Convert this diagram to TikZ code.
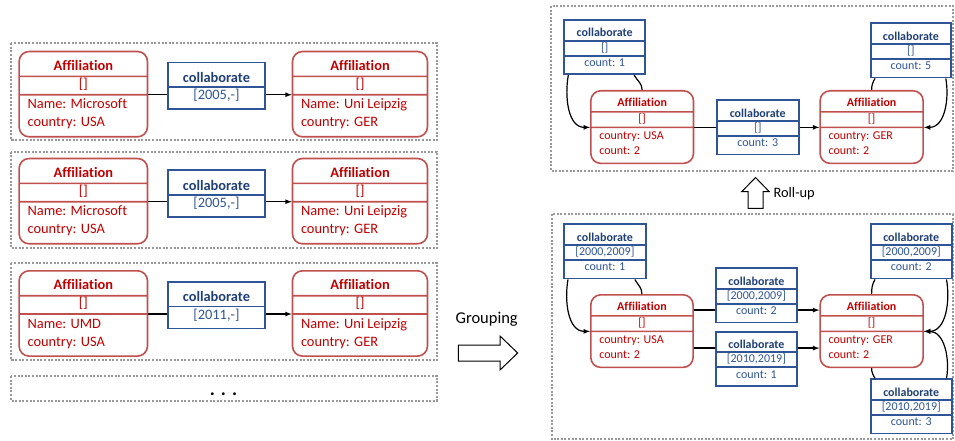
\documentclass[tikz,border=0pt]{standalone}
\usepackage{fontspec}
\setmainfont[Ligatures=NoCommon]{Carlito}
\usetikzlibrary{shapes.multipart}

\definecolor{affred}{HTML}{C0504D}
\definecolor{txtred}{HTML}{C00000}
\definecolor{colblue}{HTML}{2F5597}
\definecolor{titleblue}{HTML}{1F3F75}

% strut: height #1, depth #2
\newcommand{\strt}[2]{\rule[-#2]{0pt}{\dimexpr#1+#2\relax}}
\newcommand{\affiltitle}{\strt{1.25em}{0.37em}\textbf{Affiliation}}
\newcommand{\bracketpart}{\strt{0.78em}{0.38em}[]}
\newcommand{\attrs}[2]{\begin{tabular}{@{}l@{}}\strt{0.92em}{0pt}#1\\#2\strt{0pt}{0.64em}\end{tabular}}
\newcommand{\colltitle}{\strt{1.33em}{0.25em}\textcolor{titleblue}{\textbf{collaborate}}}
\newcommand{\collmid}[1]{\strt{0.79em}{0.31em}#1}
\newcommand{\colllast}[1]{\strt{0.82em}{0.58em}#1}

\tikzset{
  affil/.style={rectangle split, rectangle split parts=3,
                rectangle split part align={center,center,left},
                draw=affred, line width=1.6pt, rounded corners=10pt,
                text=txtred, inner ysep=0pt, inner xsep=0.85em,
                anchor=north west},
  collab/.style={rectangle split, rectangle split parts=#1,
                draw=colblue, line width=1.8pt, text=colblue,
                inner ysep=0pt, inner xsep=2pt, anchor=north west},
  collab/.default=3,
  group box/.style={draw=gray!80, line width=2pt,
                dash pattern=on 2pt off 1.6pt},
  big font/.style={font=\fontsize{14.4}{18}\selectfont},
  small font/.style={font=\fontsize{12}{15.7}\selectfont},
  hollow arrow/.style={draw=black, line width=1pt, fill=white},
  link/.style={line width=1.2pt, draw=black},
}

\begin{document}
\begin{tikzpicture}[x=1pt, y=-1pt, >=latex]
  \useasboundingbox (0,0) rectangle (955,441);

  % single collaborations
  \draw[group box] (11,43.3) rectangle (437,140);
  \draw[group box] (11,151.7) rectangle (437,248.3);
  \draw[group box] (11,263.3) rectangle (437,360);
  \draw[group box] (11,376) rectangle (437,400.7);
  \node[font=\fontsize{19}{20}\selectfont, anchor=base] (more) at (223.5,395)
    {\textbf{.\hspace{6pt}.\hspace{6pt}.}};

  \node[affil, big font, minimum width=128.4] (ms1) at (18.3,50.7)
    {\affiltitle\nodepart{two}\bracketpart
     \nodepart{three}\attrs{Name: Microsoft}{country: USA}};
  \node[collab=2, big font, minimum width=97] (c1) at (167,61.7)
    {\colltitle\nodepart{two}\colllast{[2005,-]}};
  \node[affil, big font, minimum width=135] (ul1) at (291.7,50.7)
    {\affiltitle\nodepart{two}\bracketpart
     \nodepart{three}\attrs{Name: Uni Leipzig}{country: GER}};
  \draw[link] (ms1.two split east) -- (ms1.two split east -| c1.west);
  \draw[link,->] (c1.east |- ul1.two split west) -- (ul1.two split west);

  \node[affil, big font, minimum width=128.4] (ms2) at (18.3,157.7)
    {\affiltitle\nodepart{two}\bracketpart
     \nodepart{three}\attrs{Name: Microsoft}{country: USA}};
  \node[collab=2, big font, minimum width=97] (c2) at (167,169.3)
    {\colltitle\nodepart{two}\colllast{[2005,-]}};
  \node[affil, big font, minimum width=135] (ul2) at (291.7,157.7)
    {\affiltitle\nodepart{two}\bracketpart
     \nodepart{three}\attrs{Name: Uni Leipzig}{country: GER}};
  \draw[link] (ms2.two split east) -- (ms2.two split east -| c2.west);
  \draw[link,->] (c2.east |- ul2.two split west) -- (ul2.two split west);

  \node[affil, big font, minimum width=128.4] (umd) at (18.3,270)
    {\affiltitle\nodepart{two}\bracketpart
     \nodepart{three}\attrs{Name: UMD}{country: USA}};
  \node[collab=2, big font, minimum width=97] (c3) at (167,281)
    {\colltitle\nodepart{two}\colllast{[2011,-]}};
  \node[affil, big font, minimum width=135] (ul3) at (291.7,270)
    {\affiltitle\nodepart{two}\bracketpart
     \nodepart{three}\attrs{Name: Uni Leipzig}{country: GER}};
  \draw[link] (umd.two split east) -- (umd.two split east -| c3.west);
  \draw[link,->] (c3.east |- ul3.two split west) -- (ul3.two split west);

  % grouping
  \node[font=\fontsize{16.5}{19}\selectfont] (grouping) at (486.7,319.3) {Grouping};
  \draw[hollow arrow] (458.3,345) -- (500,345) -- (500,336) -- (517.7,353)
    -- (500,370) -- (500,361) -- (458.3,361) -- cycle;

  % grouped graph
  \draw[group box] (551.7,214.3) rectangle (953,439.3);
  \node[collab, small font, minimum width=82] (usa00) at (563,223.3)
    {\colltitle\nodepart{two}\collmid{[2000,2009]}\nodepart{three}\colllast{count: 1}};
  \node[affil, small font, minimum width=102.3] (usa) at (590,294)
    {\affiltitle\nodepart{two}\bracketpart
     \nodepart{three}\attrs{country: USA}{count: 2}};
  \node[collab, small font, minimum width=81] (ug00) at (715,267.3)
    {\colltitle\nodepart{two}\collmid{[2000,2009]}\nodepart{three}\colllast{count: 2}};
  \node[collab, small font, minimum width=81] (ug10) at (715,330.7)
    {\colltitle\nodepart{two}\collmid{[2010,2019]}\nodepart{three}\colllast{count: 1}};
  \node[affil, small font, minimum width=103] (ger) at (819.3,294)
    {\affiltitle\nodepart{two}\bracketpart
     \nodepart{three}\attrs{country: GER}{count: 2}};
  \node[collab, small font, minimum width=80.7] (ger00) at (870,223.3)
    {\colltitle\nodepart{two}\collmid{[2000,2009]}\nodepart{three}\colllast{count: 2}};
  \node[collab, small font, minimum width=80.7] (ger10) at (870,378.3)
    {\colltitle\nodepart{two}\collmid{[2010,2019]}\nodepart{three}\colllast{count: 3}};

  \coordinate (up) at ([yshift=21pt]usa.east);
  \coordinate (down) at ([yshift=-17pt]usa.east);
  \draw[link] (up) -- (up -| ug00.west);
  \draw[link,->] (ug00.east |- up) -- (up -| ger.west);
  \draw[link] (down) -- (down -| ug10.west);
  \draw[link,->] (ug10.east |- down) -- (down -| ger.west);
  \draw[link] (usa.north) to[out=90, in=-60] ([xshift=-12pt]usa00.south east);
  \draw[link,->] ([xshift=5pt]usa00.south west) to[out=-100, in=180] (usa.two split west);
  \draw[link] (ger.north) to[out=90, in=-120] ([xshift=5pt]ger00.south west);
  \draw[link,->] ([xshift=-6pt]ger00.south east) to[out=-80, in=0] (ger.two split east);
  \draw[link] (ger.south) to[out=-90, in=120] ([xshift=5pt]ger10.north west);
  \draw[link,->] ([xshift=-6pt]ger10.north east) to[out=80, in=0] (ger.two split east);

  % roll-up
  \draw[hollow arrow] (748,208.3) -- (748,191.7) -- (741.7,191.7) -- (755.5,177.5)
    -- (769.3,191.7) -- (763,191.7) -- (763,208.3) -- cycle;
  \node[big font, anchor=west] (rollup) at (770,194) {Roll-up};

  % rolled-up graph
  \draw[group box] (551,6) rectangle (953,171);
  \node[collab, small font, minimum width=81] (usaloop) at (563.3,19)
    {\colltitle\nodepart{two}\collmid{[]}\nodepart{three}\colllast{count: 1}};
  \node[affil, small font, minimum width=102.7] (usar) at (590,90)
    {\affiltitle\nodepart{two}\bracketpart
     \nodepart{three}\attrs{country: USA}{count: 2}};
  \node[collab, small font, minimum width=81.7] (ugr) at (716,99.3)
    {\colltitle\nodepart{two}\collmid{[]}\nodepart{three}\colllast{count: 3}};
  \node[affil, small font, minimum width=103] (gerr) at (819.3,90)
    {\affiltitle\nodepart{two}\bracketpart
     \nodepart{three}\attrs{country: GER}{count: 2}};
  \node[collab, small font, minimum width=80] (gerloop) at (870,22.3)
    {\colltitle\nodepart{two}\collmid{[]}\nodepart{three}\colllast{count: 5}};

  \draw[link] (usar.two split east) -- (usar.two split east -| ugr.west);
  \draw[link,->] (ugr.east |- gerr.two split west) -- (gerr.two split west);
  \draw[link] (usar.north) to[out=90, in=-60] ([xshift=-12pt]usaloop.south east);
  \draw[link,->] ([xshift=5pt]usaloop.south west) to[out=-100, in=180] (usar.two split west);
  \draw[link] (gerr.north) to[out=90, in=-120] ([xshift=5pt]gerloop.south west);
  \draw[link,->] ([xshift=-6pt]gerloop.south east) to[out=-80, in=0] (gerr.two split east);
\end{tikzpicture}
\end{document}
